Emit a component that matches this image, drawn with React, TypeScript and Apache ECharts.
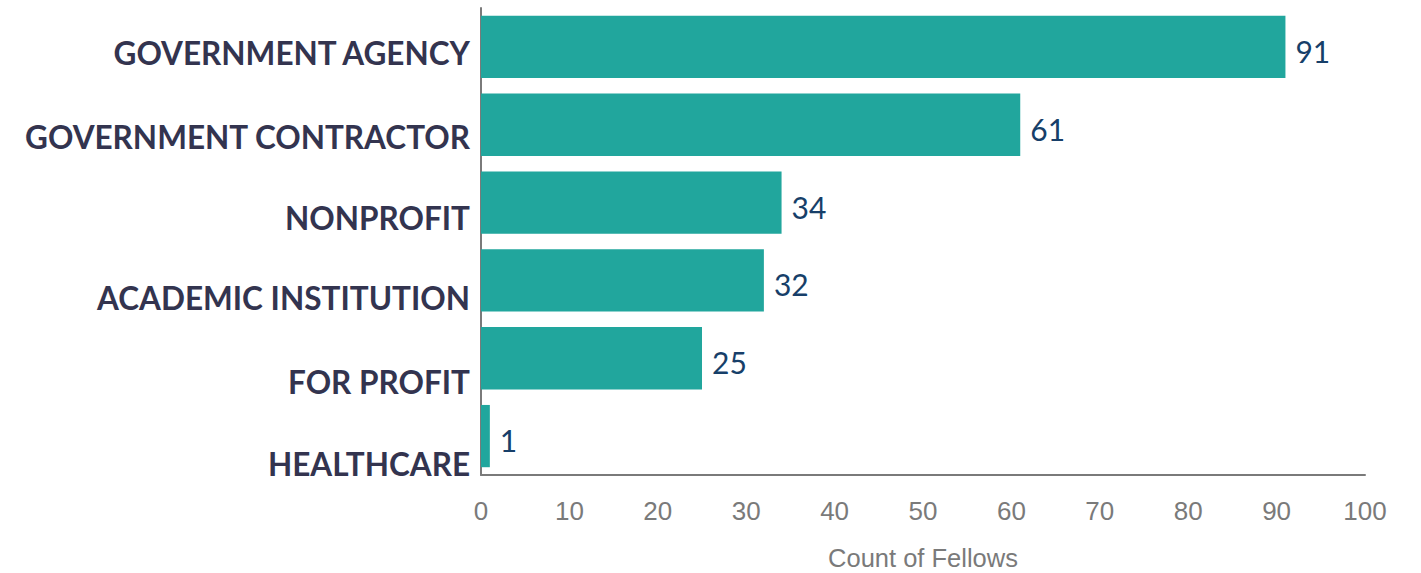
import React, { useEffect, useRef } from "react";
import * as echarts from "echarts";

const categories = [
  "GOVERNMENT AGENCY",
  "GOVERNMENT CONTRACTOR",
  "NONPROFIT",
  "ACADEMIC INSTITUTION",
  "FOR PROFIT",
  "HEALTHCARE",
];
const counts = [91, 61, 34, 32, 25, 1];
const labelDrops = [6, 12, 15, 18, 24, 28];
const xTicks = { min: 0, max: 100, interval: 10 };
const axisName = "Count of Fellows";

export default function App() {
  const ref = useRef<HTMLDivElement>(null);
  useEffect(() => {
    if (!ref.current) return;
    const chart = echarts.init(ref.current, undefined, { renderer: "svg" });
    const rich: Record<string, any> = {};
    labelDrops.forEach((d, i) => {
      rich["c" + i] = {
        fontFamily: "Lato",
        fontWeight: "bold",
        fontSize: 31.5,
        color: "#33344f",
        padding: [d * 2, 0, 0, 0],
      };
    });
    chart.setOption({
      animation: false,
      grid: { left: 481, right: 56, top: 8, bottom: 98, containLabel: false, outerBoundsMode: "none" },
      xAxis: {
        type: "value",
        min: xTicks.min,
        max: xTicks.max,
        interval: xTicks.interval,
        name: axisName,
        nameLocation: "middle",
        nameGap: 73,
        nameTextStyle: { fontFamily: "Liberation Sans", fontSize: 25.5, lineHeight: 20, color: "#7a7a7a" },
        axisLine: { show: true, lineStyle: { color: "#7a7a7a", width: 2 } },
        axisTick: { show: false },
        splitLine: { show: false },
        axisLabel: { fontFamily: "Liberation Sans", fontSize: 26, color: "#7a7a7a", margin: 23 },
      },
      yAxis: {
        type: "category",
        inverse: true,
        data: categories,
        axisLine: { show: true, lineStyle: { color: "#7a7a7a", width: 2 } },
        axisTick: { show: false },
        axisLabel: {
          margin: 11,
          formatter: (v: string) => "{c" + categories.indexOf(v) + "|" + v + "}",
          rich,
        },
      },
      series: [
        {
          type: "bar",
          data: counts,
          barCategoryGap: "20%",
          itemStyle: { color: "#21a69d" },
          label: { show: true, position: "right", distance: 10, offset: [0, 4], fontFamily: "Lato", fontSize: 30, color: "#173f69" },
        },
      ],
    });
    return () => chart.dispose();
  }, []);
  return <div ref={ref} style={{ position: "absolute", left: 0, top: 0, width: 1421, height: 573 }} />;
}
